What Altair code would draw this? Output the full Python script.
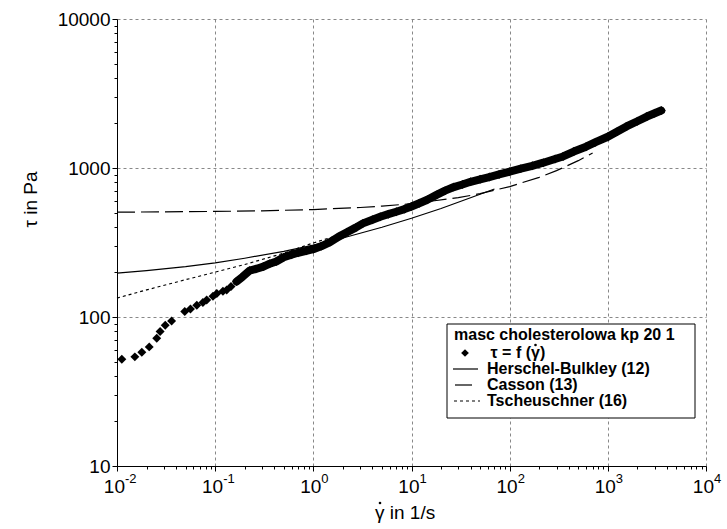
import altair as alt
import pandas as pd

# ---------------- data ----------------
gamma_pts = [0.0112, 0.0152, 0.0179, 0.0213, 0.0254, 0.0275, 0.031, 0.036, 0.049, 0.056,
             0.065, 0.075, 0.082, 0.095, 0.104, 0.12, 0.131, 0.145,
             0.165, 0.19, 0.225, 0.26, 0.31, 0.36, 0.42, 0.5, 0.6, 0.7, 0.85, 1.0,
             1.2, 1.48, 1.8, 2.2, 2.7, 3.2, 4.0, 4.8, 5.8, 7.0, 8.5, 10, 12, 14.5,
             18, 22, 27, 33, 40, 50, 62, 78, 100, 130, 170, 220, 290, 350, 450, 600,
             750, 1000, 1250, 1550, 2000, 2500, 3000, 3500]
tau_pts = [52, 54, 58, 63, 72, 80, 88, 94, 109, 113,
           120, 125, 130, 138, 144, 149, 152, 160,
           173, 186, 205, 210, 218, 228, 236, 252, 262, 270, 278, 285,
           298, 318, 345, 370, 398, 425, 450, 471, 490, 509, 530, 552, 580, 612,
           660, 705, 745, 775, 808, 840, 870, 905, 944, 990, 1035, 1085, 1150, 1195, 1290, 1390,
           1490, 1620, 1760, 1900, 2060, 2215, 2330, 2430]

hb_gamma = [0.01, 0.02, 0.05, 0.1, 0.2, 0.5, 1, 2, 5, 10, 20, 50, 70]
hb_tau = [197, 205, 218, 231, 248, 276, 304, 339, 400, 460, 535, 666, 723]

casson_gamma = [0.01, 0.03, 0.1, 0.3, 1, 3, 5, 10, 30, 50, 100, 200, 300, 500, 700]
casson_tau = [505, 508, 511, 516, 526, 543, 555, 576, 632, 673, 750, 866, 960, 1120, 1260]

tsch_gamma = [0.01, 0.02, 0.05, 0.1, 0.2, 0.5, 1, 2, 4, 7, 10]
tsch_tau = [134, 152, 178, 200, 225, 268, 314, 362, 430, 500, 550]

x_major = [0.01, 0.1, 1, 10, 100, 1000, 10000]
x_base = ["10"] * 7
x_exps = ["-2", "-1", "0", "1", "2", "3", "4"]
y_major = [10, 100, 1000, 10000]
x_minor = [m * d for d in [0.01, 0.1, 1, 10, 100, 1000] for m in range(2, 10)]
y_minor = [m * d for d in [10, 100, 1000] for m in range(2, 10)]

x_title = "\u03b3 in 1/s"
y_title = "\u03c4 in Pa"
legend_title = "masc cholesterolowa kp 20 1"
legend_labels = ["\u03c4 = f (", "\u03b3)", "Herschel-Bulkley (12)", "Casson (13)", "Tscheuschner (16)"]

FONT = "Liberation Sans"

# ---------------- frames ----------------
pts = pd.DataFrame({"g": gamma_pts, "t": tau_pts})
band = pts[pts["g"] >= 0.16]
hb = pd.DataFrame({"g": hb_gamma, "t": hb_tau})
cas = pd.DataFrame({"g": casson_gamma, "t": casson_tau})
tsc = pd.DataFrame({"g": tsch_gamma, "t": tsch_tau})
xl = pd.DataFrame({"g": x_major, "b": x_base, "e": x_exps})

xs = alt.Scale(type="log", domain=[0.01, 10000], nice=False)
ys = alt.Scale(type="log", domain=[10, 10000], nice=False)

x_axis_major = alt.Axis(values=x_major, labels=False, grid=True, gridDash=[3, 3],
                        gridColor="#888888", tickSize=5, domainColor="black", tickColor="black",
                        title=None, orient="bottom")
y_axis_major = alt.Axis(values=y_major, format="d", grid=True, gridDash=[3, 3],
                        gridColor="#888888", tickSize=5, labelFontSize=19, labelFont=FONT,
                        labelColor="black", labelPadding=2, domainColor="black", tickColor="black",
                        title=y_title, titleFont=FONT, titleFontSize=19,
                        titleFontWeight="normal", titleX=-87, titleY=180, titleAngle=-90,
                        titleAlign="center", titleBaseline="middle", orient="left",
                        labelFlush=False)
x_axis_minor = alt.Axis(values=x_minor, labels=False, grid=False, tickSize=3, domain=False,
                        tickColor="black", title=None, orient="bottom")
y_axis_minor = alt.Axis(values=y_minor, labels=False, grid=False, tickSize=3, domain=False,
                        tickColor="black", title=None, orient="left")

casson = alt.Chart(cas).mark_line(color="black", strokeWidth=1.2, strokeDash=[18, 6]).encode(
    x=alt.X("g:Q", scale=xs, axis=x_axis_major),
    y=alt.Y("t:Q", scale=ys, axis=y_axis_major),
)
hbl = alt.Chart(hb).mark_line(color="black", strokeWidth=1.2).encode(
    x=alt.X("g:Q", scale=xs, axis=x_axis_minor),
    y=alt.Y("t:Q", scale=ys, axis=y_axis_minor),
)
tsl = alt.Chart(tsc).mark_line(color="black", strokeWidth=1.2, strokeDash=[3, 3]).encode(
    x=alt.X("g:Q", scale=xs, axis=None),
    y=alt.Y("t:Q", scale=ys, axis=None),
)
bandl = alt.Chart(band).mark_line(color="black", strokeWidth=8, strokeJoin="round", strokeCap="round").encode(
    x=alt.X("g:Q", scale=xs, axis=None),
    y=alt.Y("t:Q", scale=ys, axis=None),
)
ptl = alt.Chart(pts).mark_point(shape="diamond", filled=True, size=80, color="black", opacity=1).encode(
    x=alt.X("g:Q", scale=xs, axis=None),
    y=alt.Y("t:Q", scale=ys, axis=None),
)

# x tick labels with superscript exponents
xlb = alt.Chart(xl).mark_text(align="right", baseline="middle", dx=8, fontSize=19, font=FONT,
                              color="black").encode(
    x=alt.X("g:Q", scale=xs, axis=None), y=alt.value(468), text="b:N")
xle = alt.Chart(xl).mark_text(align="left", baseline="middle", dx=8, fontSize=13, font=FONT,
                              color="black").encode(
    x=alt.X("g:Q", scale=xs, axis=None), y=alt.value(460), text="e:N")

# x title with dot above gamma
one = pd.DataFrame({"k": [0]})
xt = alt.Chart(pd.DataFrame({"s": [x_title]})).mark_text(
    align="left", baseline="middle", fontSize=19, font=FONT, color="black"
).encode(text="s:N", x=alt.value(258), y=alt.value(494))
xtdot = alt.Chart(one).mark_point(shape="circle", filled=True, size=7, color="black", opacity=1).encode(
    x=alt.value(263), y=alt.value(484))

# ---------------- legend box ----------------
lbox = alt.Chart(one).mark_rect(fill="white", stroke="black", strokeWidth=1).encode(
    x=alt.value(330), x2=alt.value(578), y=alt.value(305), y2=alt.value(399))


def ltext(s, x, y, align="left"):
    return alt.Chart(pd.DataFrame({"s": [s]})).mark_text(
        align=align, baseline="middle", fontSize=16, fontWeight="bold", font=FONT, color="black"
    ).encode(text="s:N", x=alt.value(x), y=alt.value(y))


lt0 = ltext(legend_title, 337, 316)
lt1a = ltext(legend_labels[0], 414, 334, align="right")
lt1b = ltext(legend_labels[1], 414, 334)
lt2 = ltext(legend_labels[2], 370, 350)
lt3 = ltext(legend_labels[3], 370, 366)
lt4 = ltext(legend_labels[4], 370, 382)
ldot = alt.Chart(one).mark_point(shape="circle", filled=True, size=7, color="black", opacity=1).encode(
    x=alt.value(418.5), y=alt.value(326))
lsym = alt.Chart(one).mark_point(shape="diamond", filled=True, size=60, color="black", opacity=1).encode(
    x=alt.value(348), y=alt.value(334))
lr1 = alt.Chart(one).mark_rule(color="black", strokeWidth=1.2).encode(
    x=alt.value(336), x2=alt.value(361), y=alt.value(350))
lr2 = alt.Chart(one).mark_rule(color="black", strokeWidth=1.2).encode(
    x=alt.value(338), x2=alt.value(355), y=alt.value(366))
lr3 = alt.Chart(one).mark_rule(color="black", strokeWidth=1.2, strokeDash=[3, 3]).encode(
    x=alt.value(337), x2=alt.value(363), y=alt.value(382))

chart = alt.layer(
    casson, hbl, tsl, bandl, ptl, xlb, xle, xt, xtdot,
    lbox, lsym, lr1, lr2, lr3, lt0, lt1a, lt1b, ldot, lt2, lt3, lt4
).resolve_axis(x="independent", y="independent").properties(
    width=589, height=447, autosize="none",
    padding={"left": 117, "top": 19, "right": 21, "bottom": 63},
    background="white",
).configure_view(stroke=None)

chart.save("out.html", embed_options={"renderer": "svg", "actions": False})
